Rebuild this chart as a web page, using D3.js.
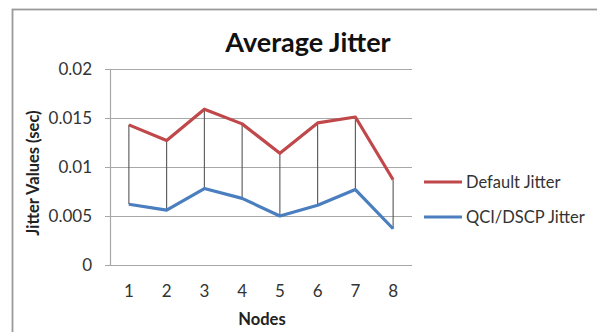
<!DOCTYPE html>
<html>
<head>
<meta charset="utf-8">
<script src="https://cdn.jsdelivr.net/npm/d3@7"></script>
<style>
  html, body { margin: 0; padding: 0; background: #fff; }
  svg { display: block; font-family: Lato, "Open Sans", sans-serif; }
</style>
</head>
<body>
<svg id="chart" width="597" height="332"></svg>
<script>
// Average jitter per node, two configurations
const nodes = [1, 2, 3, 4, 5, 6, 7, 8];
const defaultJitter = [0.0143, 0.0127, 0.0159, 0.0144, 0.0114, 0.0145, 0.0151, 0.0087];
const qciJitter = [0.0062, 0.0056, 0.0078, 0.0068, 0.0050, 0.0061, 0.0077, 0.0037];
const yTicks = [0, 0.005, 0.01, 0.015, 0.02];
const seriesNames = ["Default Jitter", "QCI/DSCP Jitter"];
const seriesColors = ["#c0474a", "#4a7ebf"];

const svg = d3.select("#chart");
const plot = { left: 110, right: 412, top: 69, bottom: 265 };

// outer chart frame (partly outside the view)
svg.append("rect")
  .attr("x", 12.5).attr("y", 9.5)
  .attr("width", 620).attr("height", 340)
  .attr("fill", "#fff").attr("stroke", "#9a9a9a").attr("stroke-width", 1.8);

const x = d3.scaleBand().domain(nodes).range([plot.left, plot.right]);
const y = d3.scaleLinear().domain([0, 0.02]).range([plot.bottom, plot.top]);
const cx = d => x(d) + x.bandwidth() / 2;

// horizontal gridlines
svg.append("g")
  .selectAll("line").data(yTicks).join("line")
  .attr("x1", plot.left - 5).attr("x2", plot.right)
  .attr("y1", d => Math.round(y(d)) + 0.5).attr("y2", d => Math.round(y(d)) + 0.5)
  .attr("stroke", "#a8a8a8").attr("stroke-width", 1.2);

// vertical axis line
svg.append("line")
  .attr("x1", plot.left + 0.5).attr("x2", plot.left + 0.5)
  .attr("y1", plot.top).attr("y2", plot.bottom)
  .attr("stroke", "#a8a8a8").attr("stroke-width", 1.2);

// y tick labels
svg.append("g")
  .selectAll("text").data(yTicks).join("text")
  .attr("x", 92).attr("y", d => y(d))
  .attr("dy", "0.35em").attr("text-anchor", "end")
  .attr("font-size", 17).attr("fill", "#333")
  .text(d => d === 0 ? "0" : d3.format("")(+d.toFixed(3)));

// x tick labels
svg.append("g")
  .selectAll("text").data(nodes).join("text")
  .attr("x", d => cx(d)).attr("y", 297)
  .attr("text-anchor", "middle")
  .attr("font-size", 17).attr("fill", "#333")
  .text(d => d);

// high-low connectors between the two series
svg.append("g")
  .selectAll("line").data(nodes).join("line")
  .attr("x1", d => cx(d)).attr("x2", d => cx(d))
  .attr("y1", (d, i) => y(defaultJitter[i]))
  .attr("y2", (d, i) => y(qciJitter[i]))
  .attr("stroke", "#555").attr("stroke-width", 1.1);

// series lines
const line = d3.line().x((d, i) => cx(nodes[i])).y(d => y(d));
[defaultJitter, qciJitter].forEach((vals, k) => {
  svg.append("path")
    .datum(vals)
    .attr("d", line)
    .attr("fill", "none")
    .attr("stroke", seriesColors[k])
    .attr("stroke-width", 3.2)
    .attr("stroke-linejoin", "round");
});

// title
svg.append("text")
  .attr("x", 308).attr("y", 52)
  .attr("text-anchor", "middle")
  .attr("font-size", 27).attr("font-weight", "bold").attr("fill", "#111")
  .text("Average Jitter");

// axis titles
svg.append("text")
  .attr("transform", "translate(39,173) rotate(-90)")
  .attr("text-anchor", "middle")
  .attr("font-size", 16.5).attr("font-weight", "bold").attr("fill", "#222")
  .text("Jitter Values (sec)");

svg.append("text")
  .attr("x", 262).attr("y", 325)
  .attr("text-anchor", "middle")
  .attr("font-size", 16.5).attr("font-weight", "bold").attr("fill", "#222")
  .text("Nodes");

// legend
const legend = svg.append("g")
  .selectAll("g").data(seriesNames).join("g")
  .attr("transform", (d, i) => `translate(424,${182 + i * 35})`);
legend.append("line")
  .attr("x1", 0).attr("x2", 38)
  .attr("stroke", (d, i) => seriesColors[i]).attr("stroke-width", 3.2);
legend.append("text")
  .attr("x", 42).attr("dy", "0.35em")
  .attr("font-size", 16.5).attr("fill", "#333")
  .text(d => d);
</script>
</body>
</html>
